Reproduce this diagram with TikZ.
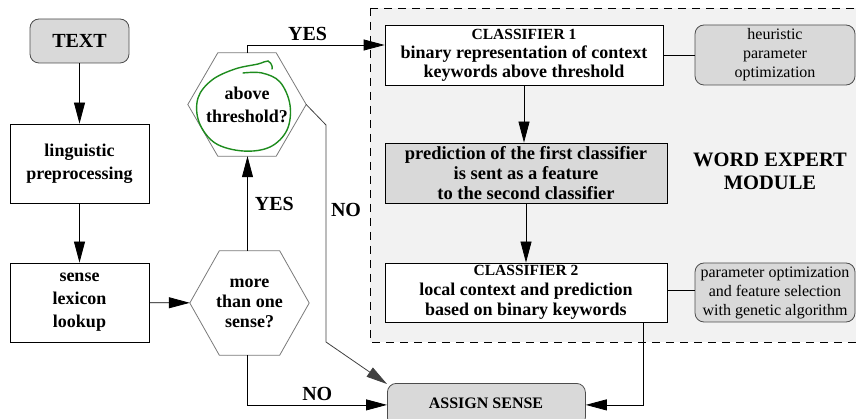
\documentclass[tikz,border=0pt]{standalone}
\usepackage{fontspec}
\setmainfont{Liberation Serif}
\usetikzlibrary{arrows.meta,shapes.geometric,calc}
\definecolor{boxgray}{HTML}{D9D9D9}
\definecolor{modgray}{HTML}{F2F2F2}
\definecolor{hexline}{HTML}{7A7A7A}
\definecolor{pen}{HTML}{1E8C1E}
\tikzset{
  arr/.style={-{Triangle[length=21pt,width=11pt]}, line width=0.8pt},
  ln/.style={line width=0.8pt},
  bigtxt/.style={font=\bfseries\fontsize{18}{23}\selectfont, align=center},
  plainbox/.style={draw, line width=0.8pt, fill=white, inner sep=0pt, align=center},
  roundbox/.style={draw=black!70, line width=0.8pt, fill=boxgray, rounded corners=9pt, inner sep=0pt, align=center},
  hexbox/.style={rectangle, inner sep=0pt, align=center, font=\bfseries\fontsize{18}{21}\selectfont},
  hexline/.style={draw=hexline, line width=0.8pt, fill=white},
  lbl/.style={font=\bfseries\fontsize{20}{22}\selectfont, inner sep=0pt},
  sidetxt/.style={font=\fontsize{16}{19}\selectfont},
}
\newcommand{\hexdraw}[2]{% node name, corner inset
  \draw[hexline] (#1.west) -- ([xshift=#2]#1.north west) -- ([xshift=-#2]#1.north east)
     -- (#1.east) -- ([xshift=-#2]#1.south east) -- ([xshift=#2]#1.south west) -- cycle;}
\begin{document}
\begin{tikzpicture}[x=1pt, y=-1pt]
\useasboundingbox (0,0) rectangle (856,419);
\clip (0,0) rectangle (856,419);
% word expert module
\draw[dashed, dash pattern=on 8pt off 6pt, line width=0.8pt, fill=modgray] (370,8) rectangle (880,342);
% nodes
\node[roundbox, minimum width=99pt, minimum height=44pt, font=\bfseries\fontsize{20}{22}\selectfont] (text) at (79.5,41) {TEXT};
\node[plainbox, bigtxt, minimum width=139pt, minimum height=79pt] (ling) at (79.5,163.5) {linguistic\\preprocessing};
\node[plainbox, bigtxt, minimum width=139pt, minimum height=79pt] (lex) at (79.5,302.5) {sense\\lexicon\\lookup};
\node[hexbox, minimum width=119pt, minimum height=104pt] (more) at (249.5,303) {};
\hexdraw{more}{29.5pt}
\node[hexbox, font=\bfseries\fontsize{18}{20}\selectfont] (moretxt) at (more.center) {more\\than one\\sense?};
\node[hexbox, minimum width=118pt, minimum height=103pt] (thr) at (247,104.5) {};
\hexdraw{thr}{30pt}
\node[hexbox, font=\bfseries\fontsize{18}{23}\selectfont] (thrtxt) at (thr.center) {above\\threshold?};
\node[plainbox, minimum width=278pt, minimum height=60pt, font=\bfseries\fontsize{18}{19}\selectfont] (cls1) at (524,55)
  {{\fontsize{15.5}{19}\selectfont CLASSIFIER 1}\\binary representation of context\\keywords above threshold};
\node[roundbox, sidetxt, minimum width=160pt, minimum height=60pt] (heur) at (775,55) {heuristic\\parameter\\optimization};
\node[plainbox, fill=boxgray, minimum width=282pt, minimum height=60pt, font=\bfseries\fontsize{18.5}{20}\selectfont] (pred) at (526,173)
  {prediction of the first classifier\\is sent as a feature\\to the second classifier};
\node[plainbox, minimum width=282pt, minimum height=59pt, font=\bfseries\fontsize{18}{20}\selectfont] (cls2) at (526,292.5)
  {{\fontsize{15.5}{20}\selectfont CLASSIFIER 2}\\local context and prediction\\based on binary keywords};
\node[roundbox, sidetxt, minimum width=160pt, minimum height=59pt] (param) at (775,292.5) {parameter optimization\\and feature selection\\with genetic algorithm};
\node[font=\bfseries\fontsize{20.5}{23}\selectfont, align=center] (wem) at (770,171) {WORD EXPERT\\MODULE};
\node[roundbox, minimum width=198pt, minimum height=43pt, anchor=north west] (asg) at (387,383) {};
\node[font=\bfseries\fontsize{16}{18}\selectfont] (asgtxt) at (486,403) {ASSIGN SENSE};
% green annotation
\draw[pen, line width=1.4pt, line cap=round] plot[smooth, tension=0.6] coordinates {
 (243,73) (262,73) (280,82) (290,105) (287,130) (270,147) (243,151) (215,143) (199,122) (198,98) (212,80) (235,69) (258,64) (268,61) (272,66) (272,69)};
% connectors
\draw[arr] (text) -- (ling);
\draw[arr] (ling) -- (lex);
\draw[arr] (lex) -- (more);
\draw[arr] ([xshift=-2pt]more.north) -- ([xshift=-2pt]more.north |- thr.south) node[lbl, pos=0.5, right=7pt] (yes1) {YES};
\draw[arr] (thr.north) |- ([yshift=10pt]cls1.west) node[lbl, pos=0.72, above=4pt] (yes2) {YES};
\coordinate (n0) at (308,106);
\coordinate (n1) at (326,125);
\coordinate (n2) at (326,342);
\coordinate (n3) at (387,384);
\draw[arr, draw=black!75] (thr.east) -- (n1) -- (n2) -- (n3);
\node[lbl] (no1) at (346,210) {NO};
\draw[arr] ([xshift=-2pt]more.south) |- (asg.west) node[lbl, pos=0.75, above=4pt] (no2) {NO};
\draw[arr] (cls1.south) -- (cls1.south |- pred.north);
\draw[arr] (pred.south) -- (pred.south |- cls2.north);
\draw[ln] (cls1.east) -- (heur.west);
\draw[ln] ([yshift=2pt]cls2.east) -- ([yshift=2pt]param.west);
\draw[arr] ([xshift=-24pt]cls2.south east) |- (asg.east);
\end{tikzpicture}
\end{document}
